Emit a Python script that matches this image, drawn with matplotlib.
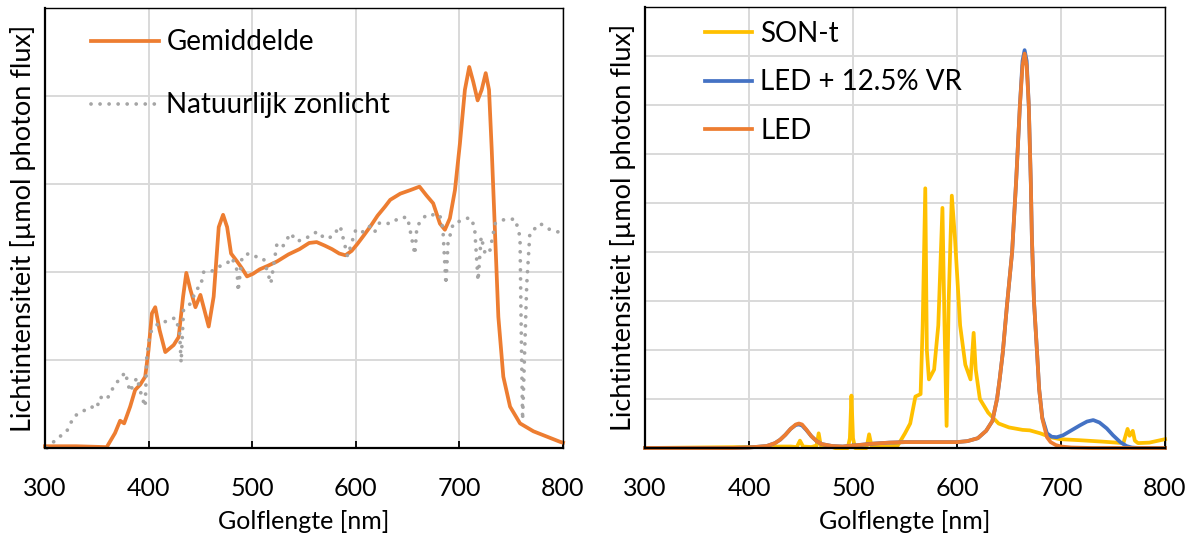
import numpy as np
import matplotlib
matplotlib.use("Agg")
import matplotlib.pyplot as plt

plt.rcParams['font.family'] = ['Lato', 'DejaVu Sans']

# linker grafiek: gemiddelde spectrum en natuurlijk zonlicht
gem_nm = [300, 330, 359.6, 367.6, 372.5, 376.4, 382.2, 387, 391.9, 396.7, 399.9, 403.2, 406.4,
          410.6, 416.1, 424.2, 429, 433.3, 436.4, 440.3, 445.2, 450, 453.8, 458, 462.8, 467.7,
          471.9, 475.8, 479.6, 485.4, 490.2, 495, 500.8, 507.2, 515, 524, 535, 545.7, 555,
          562.2, 570, 577, 584, 590, 596, 601.6, 608, 614.8, 621, 628, 633.2, 642.9, 652.5,
          661.5, 668.2, 674.7, 681.2, 686, 690.8, 695.7, 700.5, 705.3, 709.5, 713.4, 717.6,
          721.5, 725.4, 728.6, 731.2, 734.4, 737.6, 742.4, 748.9, 758.5, 771.4, 784.3, 797.2, 800]
gem_val = [0.02, 0.02, 0.01, 0.17, 0.31, 0.28, 0.47, 0.66, 0.72, 0.81, 1.11, 1.53, 1.6,
           1.34, 1.09, 1.17, 1.26, 1.72, 1.99, 1.8, 1.6, 1.74, 1.57, 1.38, 1.72, 2.51,
           2.65, 2.51, 2.21, 2.12, 2.04, 1.95, 1.98, 2.03, 2.07, 2.12, 2.2, 2.26, 2.33,
           2.34, 2.3, 2.26, 2.21, 2.19, 2.24, 2.32, 2.42, 2.53, 2.64, 2.74, 2.82, 2.89, 2.93,
           2.97, 2.87, 2.78, 2.55, 2.48, 2.61, 2.93, 3.46, 4.07, 4.33, 4.16, 3.95,
           4.07, 4.26, 4.07, 3.39, 2.44, 1.49, 0.81, 0.47, 0.28, 0.19, 0.13, 0.07, 0.06]

zon_nm = [302, 311, 321, 328, 337, 344, 350, 353, 359.6, 366, 371, 377.5, 382, 388.7, 393.5,
          396.7, 398.3, 401.5, 409.6, 417.6, 425.6, 429.8, 431.4, 433.7, 440.3, 446.7, 450,
          453.2, 459.7, 467.7, 475.8, 480.6, 485.4, 486.4, 490.2, 496.6, 504.7, 511, 518, 524,
          530, 537, 543, 550, 557, 563, 570, 577, 585, 592, 600, 606, 613, 618, 623, 633, 643,
          650, 657, 659, 668, 681, 684, 687, 689, 694, 701, 710, 714.6, 718, 721, 725, 729.6,
          734.5, 744, 754, 758.5, 759.5, 761, 763, 765, 768, 778, 787.6, 797, 800]
zon_val = [0.0, 0.1, 0.19, 0.36, 0.42, 0.47, 0.45, 0.58, 0.55, 0.69, 0.77, 0.86, 0.64, 0.8, 0.58,
           0.47, 1.05, 1.31, 1.42, 1.44, 1.48, 1.34, 0.97, 1.57, 1.64, 1.81, 1.83,
           2.0, 2.0, 2.06, 2.1, 2.16, 2.02, 1.78, 2.17, 2.21, 2.17, 2.15, 1.87, 2.33,
           2.3, 2.44, 2.35, 2.37, 2.42, 2.46, 2.38, 2.4, 2.52, 2.18, 2.48, 2.45, 2.52, 2.45, 2.56, 2.55, 2.62,
           2.62, 2.2, 2.52, 2.65, 2.65, 2.5, 1.86, 2.33, 2.55, 2.58, 2.62, 2.52, 1.9, 2.4, 2.2, 2.25,
           2.55, 2.6, 2.6, 2.4, 1.49, 0.32, 1.1, 1.86, 2.44, 2.55, 2.48, 2.45, 2.44]

# rechter grafiek: SON-t, LED + 12.5% VR en LED
led_nm = [300, 380, 400, 417, 425, 430, 435, 440, 445, 448, 451, 455, 460, 465, 470, 480,
          490, 500, 510, 520, 535, 550, 575, 600, 610, 620, 628, 634, 638.5, 641, 644, 648,
          653, 657, 660.5, 663, 665, 667, 669, 671, 672, 674, 677, 679, 682, 686.5, 690, 695,
          700, 710, 730, 800]
led_val = [0.0, 0.0, 0.01, 0.04, 0.1, 0.17, 0.27, 0.39, 0.48, 0.5, 0.48, 0.38, 0.24, 0.14, 0.08, 0.04,
           0.03, 0.05, 0.07, 0.09, 0.11, 0.12, 0.12, 0.12, 0.14, 0.2, 0.35, 0.55, 1.0, 1.4, 1.94, 2.9,
           4.0, 5.5, 7.0, 7.8, 8.05, 7.8, 7.0, 5.4, 4.3, 3.0, 1.94, 1.2, 0.6, 0.22, 0.12, 0.06,
           0.03, 0.01, 0.0, 0.0]

ledvr_nm = [300, 380, 400, 417, 425, 430, 435, 440, 445, 448, 451, 455, 460, 465, 470, 480,
            490, 500, 510, 520, 535, 550, 575, 600, 610, 620, 628, 634, 638.5, 641, 644, 648,
            653, 657, 660.5, 663, 665, 667, 669, 671, 672, 674, 677, 679, 682, 686.5, 691, 696,
            702, 710, 718, 725, 731, 737, 744, 750, 757, 763, 768, 775, 800]
ledvr_val = [0.0, 0.0, 0.01, 0.04, 0.1, 0.17, 0.27, 0.39, 0.47, 0.48, 0.46, 0.37, 0.24, 0.14, 0.08, 0.04,
             0.03, 0.05, 0.07, 0.09, 0.11, 0.12, 0.12, 0.12, 0.14, 0.2, 0.35, 0.55, 1.0, 1.4, 1.94, 2.9,
             4.0, 5.5, 7.0, 7.9, 8.12, 7.9, 7.0, 5.4, 4.3, 3.0, 1.94, 1.2, 0.62, 0.3, 0.23, 0.22,
             0.26, 0.36, 0.46, 0.54, 0.57, 0.52, 0.4, 0.26, 0.12, 0.04, 0.01, 0.0, 0.0]

son_nm = [300, 400, 423, 440, 446, 449, 452, 460, 465, 467, 469, 472, 477, 483, 495, 497,
          498.5, 500, 502, 513, 515.5, 518, 530, 543, 550, 555, 560, 565, 567, 569.5, 571, 573,
          578, 582, 586, 588, 590, 592, 595, 598, 603, 608, 613, 616, 618, 622, 630, 640,
          650, 663, 670, 680, 690, 699, 717, 740, 760, 764, 766, 769, 771, 774, 785, 800]
son_val = [0.0, 0.02, 0.03, 0.03, 0.02, 0.15, 0.03, 0.02, 0.05, 0.3, 0.05, 0.03, 0.04, 0.0, 0.0, 0.2,
           1.07, 0.2, 0.0, 0.0, 0.28, 0.02, 0.03, 0.05, 0.3, 0.5, 1.05, 1.1, 2.5, 5.3, 2.0, 1.4,
           1.6, 2.5, 4.9, 2.5, 0.45, 3.0, 5.15, 4.3, 2.5, 1.7, 1.4, 2.35, 1.6, 1.0, 0.72, 0.5,
           0.42, 0.37, 0.36, 0.3, 0.22, 0.18, 0.16, 0.13, 0.1, 0.39, 0.25, 0.35, 0.15, 0.1, 0.11, 0.18]

x_ticks = [300, 400, 500, 600, 700, 800]

ORANJE = '#ED7D31'
GRIJS = '#A5A5A5'
GEEL = '#FFC000'
BLAUW = '#4472C4'
LW = 2.7


def opmaak(ax, ymax):
    ax.set_xlim(300, 800)
    ax.set_ylim(0, ymax)
    ax.set_xticks(x_ticks)
    ax.set_yticks(np.arange(0, ymax + 1, 1))
    ax.set_yticklabels([])
    ax.tick_params(axis='y', length=0)
    ax.tick_params(axis='x', direction='in', length=5, width=1.3, color='black',
                   labelsize=18, pad=21)
    ax.grid(True, color='#d9d9d9', linewidth=1.4)
    ax.set_axisbelow(True)
    for s in ax.spines.values():
        s.set_color('black')
        s.set_linewidth(1.0)
    ax.spines['bottom'].set_linewidth(1.6)
    ax.spines['left'].set_linewidth(1.6)
    ax.set_xlabel('Golflengte [nm]', fontsize=18, labelpad=7)
    ax.set_ylabel('Lichtintensiteit [µmol photon flux]', fontsize=19.5, labelpad=3)


fig = plt.figure(figsize=(11.93, 5.45), dpi=100)
ax1 = fig.add_axes([45 / 1193, 97 / 545, 518 / 1193, 440 / 545])
ax2 = fig.add_axes([645 / 1193, 97 / 545, 520 / 1193, 441 / 545])

ax1.plot(gem_nm, gem_val, color=ORANJE, lw=LW, label='Gemiddelde', clip_on=False,
         solid_joinstyle='round')
ax1.plot(zon_nm, zon_val, color=GRIJS, lw=LW, linestyle=(0, (0.01, 2.4)),
         dash_capstyle='round', label='Natuurlijk zonlicht', clip_on=False)
opmaak(ax1, 5)
ax1.legend(loc='upper left', bbox_to_anchor=(0.068, 0.977), frameon=False, fontsize=20,
           handlelength=2.45, handletextpad=0.25, labelspacing=1.34, borderaxespad=0)

ax2.plot(son_nm, son_val, color=GEEL, lw=LW, label='SON-t', clip_on=False,
         solid_joinstyle='round')
ax2.plot(ledvr_nm, ledvr_val, color=BLAUW, lw=LW, label='LED + 12.5% VR', clip_on=False,
         solid_joinstyle='round')
ax2.plot(led_nm, led_val, color=ORANJE, lw=LW, label='LED', clip_on=False,
         solid_joinstyle='round')
opmaak(ax2, 9)
ax2.legend(loc='upper left', bbox_to_anchor=(0.094, 0.993), frameon=False, fontsize=20,
           handlelength=1.7, handletextpad=0.29, labelspacing=0.8, borderaxespad=0)

fig.savefig('out.png', dpi=100)
